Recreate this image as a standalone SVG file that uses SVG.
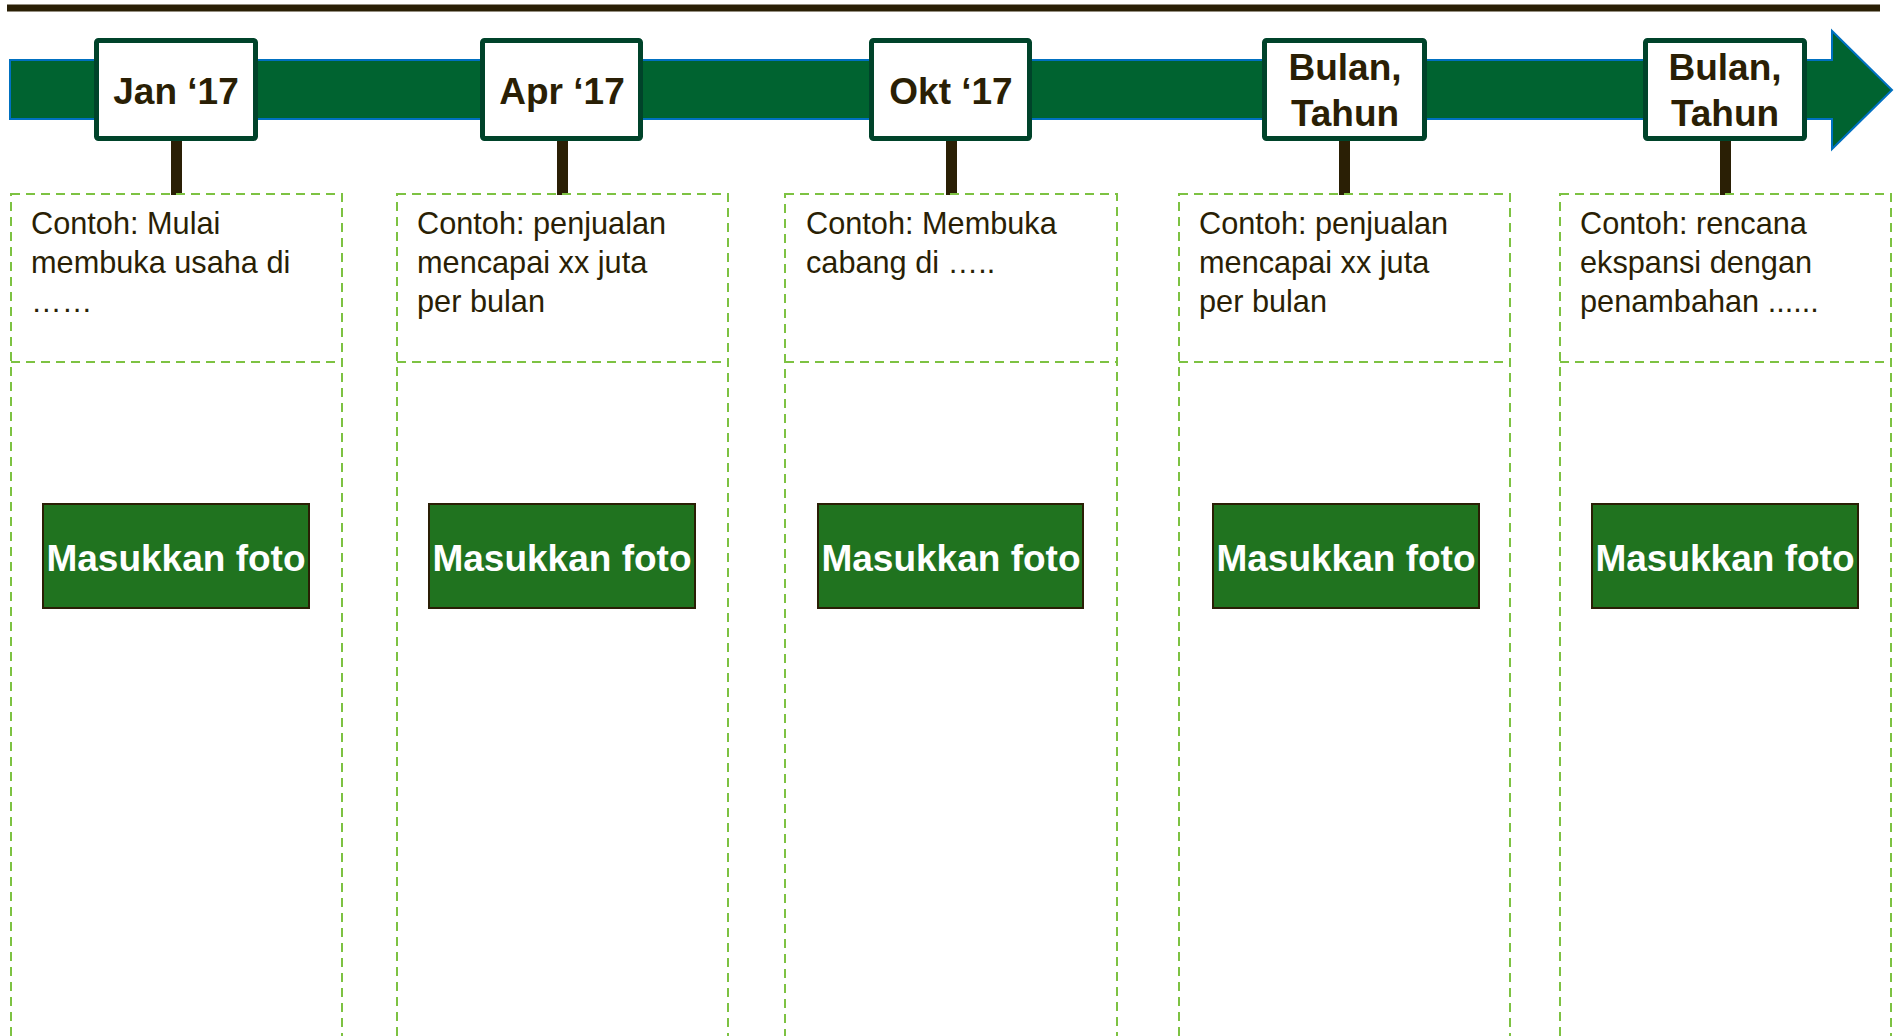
<svg xmlns="http://www.w3.org/2000/svg" width="1898" height="1036" viewBox="0 0 1898 1036">
<style>
.lbl{fill:#fff;stroke:#00432A;stroke-width:5}
.lt{font-family:"Liberation Sans",Arial,sans-serif;font-weight:bold;font-size:37px;fill:#2A1F05;text-anchor:middle}
.stem{fill:#2A1F05}
.dbox{fill:none;stroke:#7DC242;stroke-width:2;stroke-dasharray:9 6}
.desc{font-family:"Liberation Sans",Arial,sans-serif;font-size:30.7px;fill:#2A1F05}
.photo{fill:#20731F;stroke:#2A1F05;stroke-width:2}
.pt{font-family:"Liberation Sans",Arial,sans-serif;font-weight:bold;font-size:37px;fill:#fff;text-anchor:middle}
</style>
<rect width="1898" height="1036" fill="#fff"/>
<line x1="7" y1="8" x2="1880" y2="8" stroke="#2A1F05" stroke-width="7"/>
<polygon points="10,60 1832,60 1832,31 1892,90 1832,149 1832,119 10,119" fill="#006330" stroke="#0070C0" stroke-width="2"/>
<g id="connectors">
<rect class="stem" x="171" y="140" width="11" height="55"/>
<rect class="stem" x="557" y="140" width="11" height="55"/>
<rect class="stem" x="946" y="140" width="11" height="55"/>
<rect class="stem" x="1339" y="140" width="11" height="55"/>
<rect class="stem" x="1720" y="140" width="11" height="55"/>
</g>
<g id="col1">
<rect class="lbl" x="96.5" y="40.5" width="159" height="98" rx="2"/>
<text class="lt" x="176" y="104">Jan ‘17</text>
<rect class="dbox" x="11" y="194" width="331" height="900"/>
<line class="dbox" x1="11" y1="362" x2="342" y2="362"/>
<text class="desc" x="31" y="234">Contoh: Mulai</text>
<text class="desc" x="31" y="273">membuka usaha di</text>
<text class="desc" x="31" y="312">……</text>
<rect class="photo" x="43" y="504" width="266" height="104"/>
<text class="pt" x="176" y="571">Masukkan foto</text>
</g>
<g id="col2">
<rect class="lbl" x="482.5" y="40.5" width="158" height="98" rx="2"/>
<text class="lt" x="562" y="104">Apr ‘17</text>
<rect class="dbox" x="397" y="194" width="331" height="900"/>
<line class="dbox" x1="397" y1="362" x2="728" y2="362"/>
<text class="desc" x="417" y="234">Contoh: penjualan</text>
<text class="desc" x="417" y="273">mencapai xx juta</text>
<text class="desc" x="417" y="312">per bulan</text>
<rect class="photo" x="429" y="504" width="266" height="104"/>
<text class="pt" x="562" y="571">Masukkan foto</text>
</g>
<g id="col3">
<rect class="lbl" x="871.5" y="40.5" width="158" height="98" rx="2"/>
<text class="lt" x="951" y="104">Okt ‘17</text>
<rect class="dbox" x="785" y="194" width="332" height="900"/>
<line class="dbox" x1="785" y1="362" x2="1117" y2="362"/>
<text class="desc" x="806" y="234">Contoh: Membuka</text>
<text class="desc" x="806" y="273">cabang di …..</text>
<rect class="photo" x="818" y="504" width="265" height="104"/>
<text class="pt" x="951" y="571">Masukkan foto</text>
</g>
<g id="col4">
<rect class="lbl" x="1264.5" y="40.5" width="160" height="98" rx="2"/>
<text class="lt" x="1345" y="80">Bulan,</text>
<text class="lt" x="1345" y="126">Tahun</text>
<rect class="dbox" x="1179" y="194" width="331" height="900"/>
<line class="dbox" x1="1179" y1="362" x2="1510" y2="362"/>
<text class="desc" x="1199" y="234">Contoh: penjualan</text>
<text class="desc" x="1199" y="273">mencapai xx juta</text>
<text class="desc" x="1199" y="312">per bulan</text>
<rect class="photo" x="1213" y="504" width="266" height="104"/>
<text class="pt" x="1346" y="571">Masukkan foto</text>
</g>
<g id="col5">
<rect class="lbl" x="1645.5" y="40.5" width="159" height="98" rx="2"/>
<text class="lt" x="1725" y="80">Bulan,</text>
<text class="lt" x="1725" y="126">Tahun</text>
<rect class="dbox" x="1560" y="194" width="331" height="900"/>
<line class="dbox" x1="1560" y1="362" x2="1891" y2="362"/>
<text class="desc" x="1580" y="234">Contoh: rencana</text>
<text class="desc" x="1580" y="273">ekspansi dengan</text>
<text class="desc" x="1580" y="312">penambahan ......</text>
<rect class="photo" x="1592" y="504" width="266" height="104"/>
<text class="pt" x="1725" y="571">Masukkan foto</text>
</g>
</svg>
